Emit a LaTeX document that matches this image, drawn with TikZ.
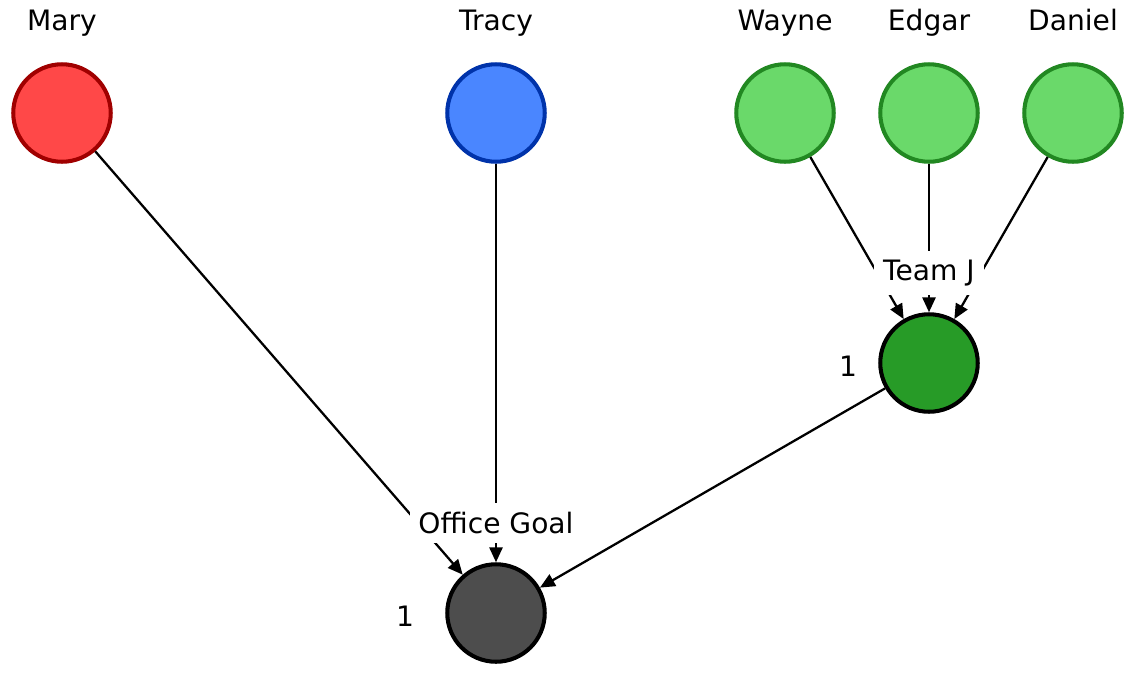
\documentclass[tikz,border=0pt]{standalone}
\usepackage{fontspec}
\setmainfont{DejaVu Sans}
\usetikzlibrary{arrows.meta}
\definecolor{maryfill}{HTML}{FF4848}
\definecolor{marydraw}{HTML}{A00000}
\definecolor{tracyfill}{HTML}{4A86FF}
\definecolor{tracydraw}{HTML}{0033AA}
\definecolor{greenfill}{HTML}{6AD96A}
\definecolor{greendraw}{HTML}{228822}
\definecolor{teamfill}{HTML}{279B27}
\definecolor{goalfill}{HTML}{4D4D4D}
\tikzset{
  person/.style={draw,circle,line width=2.3pt,minimum size=1.95cm,inner sep=0pt},
  goal/.style={person,draw=black},
  edge/.style={line width=1.3pt,-{Triangle[length=8.5pt,width=7.5pt]}},
  lbl/.style={fill=white,inner xsep=5pt,inner ysep=5pt},
  nametxt/.style={anchor=base},
}
\begin{document}
\begin{tikzpicture}[x=0.02cm,y=-0.02cm,font=\fontsize{16}{19}\selectfont]
\useasboundingbox (0,0) rectangle (1136,677);
\node[person,fill=maryfill,draw=marydraw] (mary) at (62,113) {};
\node[person,fill=tracyfill,draw=tracydraw] (tracy) at (496,113) {};
\node[person,fill=greenfill,draw=greendraw] (wayne) at (785,113) {};
\node[person,fill=greenfill,draw=greendraw] (edgar) at (929,113) {};
\node[person,fill=greenfill,draw=greendraw] (daniel) at (1073,113) {};
\node[goal,fill=teamfill] (team) at (929,363) {};
\node[goal,fill=goalfill] (office) at (496,613) {};
\node[nametxt] (marytxt) at (62,30) {Mary};
\node[nametxt] (tracytxt) at (496,30) {Tracy};
\node[nametxt] (waynetxt) at (785,30) {Wayne};
\node[nametxt] (edgartxt) at (929,30) {Edgar};
\node[nametxt] (danieltxt) at (1073,30) {Daniel};
\node[nametxt] (teamnum) at (848,376) {1};
\node[nametxt] (officenum) at (405,626) {1};
\draw[edge] (wayne) -- (team);
\draw[edge] (edgar) -- (team);
\draw[edge] (daniel) -- (team);
\draw[edge] (mary) -- (office);
\draw[edge] (tracy) -- (office);
\draw[edge] (team) -- (office);
\node[lbl] (teamlbl) at (929,273) {Team J};
\node[lbl] (officelbl) at (496,523) {Office Goal};
\end{tikzpicture}
\end{document}
